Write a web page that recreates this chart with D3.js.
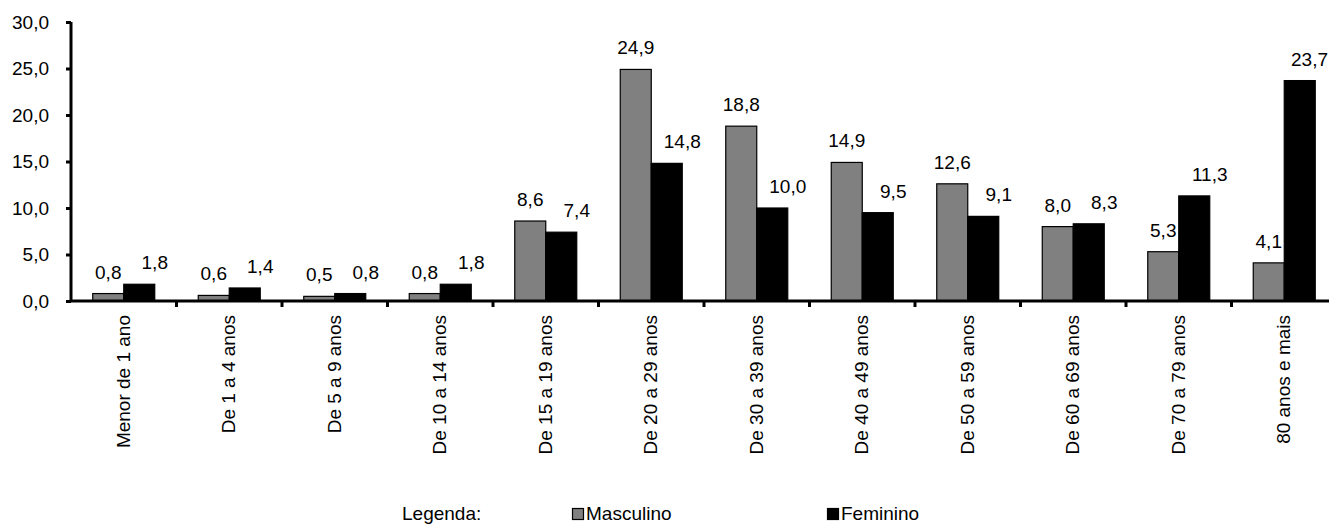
<!DOCTYPE html>
<html>
<head>
<meta charset="utf-8">
<script src="https://cdn.jsdelivr.net/npm/d3@7"></script>
<style>
  html, body { margin: 0; padding: 0; background: #fff; }
  svg { display: block; }
  text { font-family: "Liberation Sans", Arial, sans-serif; fill: #000; }
</style>
</head>
<body>
<svg id="chart" width="1329" height="526"></svg>
<script>
// Faixas etárias
const categories = [
  "Menor de 1 ano", "De 1 a 4 anos", "De 5 a 9 anos", "De 10 a 14 anos",
  "De 15 a 19 anos", "De 20 a 29 anos", "De 30 a 39 anos", "De 40 a 49 anos",
  "De 50 a 59 anos", "De 60 a 69 anos", "De 70 a 79 anos", "80 anos e mais"
];
// Percentuais por sexo
const masculino = [0.8, 0.6, 0.5, 0.8, 8.6, 24.9, 18.8, 14.9, 12.6, 8.0, 5.3, 4.1];
const feminino  = [1.8, 1.4, 0.8, 1.8, 7.4, 14.8, 10.0, 9.5, 9.1, 8.3, 11.3, 23.7];
const seriesNames = ["Masculino", "Feminino"];
const yTicks = [0, 5, 10, 15, 20, 25, 30];

const W = 1329;
const svg = d3.select("#chart");
const FS = 19;
const fmt = v => d3.format(".1f")(v).replace(".", ",");

const x0 = 71, bandW = 105.5;
const x = d3.scaleBand().domain(categories).range([x0, x0 + bandW * categories.length]).paddingInner(0).paddingOuter(0);
const y = d3.scaleLinear().domain([0, 30]).range([301, 22]);
const barW = 31;
const sub = d3.scaleBand().domain(seriesNames).range([-barW, barW]);
const colors = { "Masculino": "#808080", "Feminino": "#000000" };

const rows = categories.map((c, i) => ({ cat: c, values: [
  { name: "Masculino", v: masculino[i] },
  { name: "Feminino", v: feminino[i] }
]}));

// Barras
const groups = svg.append("g").selectAll("g").data(rows).join("g")
  .attr("transform", d => `translate(${x(d.cat) + x.bandwidth() / 2},0)`);

groups.selectAll("rect").data(d => d.values).join("rect")
  .attr("x", d => sub(d.name))
  .attr("y", d => y(d.v))
  .attr("width", sub.bandwidth())
  .attr("height", d => y(0) - y(d.v))
  .attr("fill", d => colors[d.name])
  .attr("stroke", "#000")
  .attr("stroke-width", 1.2);

// Rótulos de valor (mantidos dentro da área do gráfico)
groups.each(function(row) {
  const cx = x(row.cat) + x.bandwidth() / 2;
  d3.select(this).selectAll("text.val").data(row.values).join("text")
    .attr("class", "val")
    .attr("x", d => d.name === "Masculino" ? sub(d.name) + sub.bandwidth() / 2 : sub(d.name) + sub.bandwidth())
    .attr("y", d => y(d.v) - 15)
    .attr("text-anchor", "middle")
    .attr("font-size", FS)
    .text(d => fmt(d.v))
    .each(function() {
      const b = this.getBBox();
      const overflow = cx + b.x + b.width - (W - 1);
      if (overflow > 0) d3.select(this).attr("x", +d3.select(this).attr("x") - overflow);
    });
});

// Eixo Y
const yAxis = svg.append("g").attr("transform", `translate(${x0},0)`)
  .call(d3.axisLeft(y).tickValues(yTicks).tickSize(5).tickPadding(17).tickFormat(fmt));
yAxis.select(".domain").attr("stroke", "#000").attr("stroke-width", 3).attr("d", `M0,${y(30)}V${y(0)}`);
yAxis.selectAll(".tick line").attr("stroke-width", 3);
yAxis.selectAll(".tick text").attr("font-size", FS).attr("font-family", "Liberation Sans, Arial, sans-serif").attr("fill", "#000");

// Eixo X
const xAxis = svg.append("g").attr("transform", `translate(0,${y(0)})`);
xAxis.append("line").attr("x1", x0).attr("x2", x0 + bandW * categories.length)
  .attr("stroke", "#000").attr("stroke-width", 3);
xAxis.selectAll("line.tk").data(categories.slice(1)).join("line")
  .attr("class", "tk")
  .attr("x1", d => x(d)).attr("x2", d => x(d))
  .attr("y1", 0).attr("y2", 6)
  .attr("stroke", "#000").attr("stroke-width", 3);
xAxis.selectAll("text").data(categories).join("text")
  .attr("transform", d => `translate(${x(d) + x.bandwidth() / 2 + 6},14) rotate(-90)`)
  .attr("text-anchor", "end")
  .attr("font-size", FS)
  .text(d => d);

// Legenda
const leg = svg.append("g");
leg.append("text").attr("x", 402).attr("y", 520).attr("font-size", FS).text("Legenda:");
const legItems = [{ name: "Masculino", x: 572 }, { name: "Feminino", x: 827 }];
legItems.forEach(it => {
  leg.append("rect").attr("x", it.x + 0.5).attr("y", 508.5).attr("width", 11).attr("height", 11)
    .attr("fill", colors[it.name]).attr("stroke", "#000").attr("stroke-width", 1.2);
  leg.append("text").attr("x", it.x + 14).attr("y", 520).attr("font-size", FS).text(it.name);
});
</script>
</body>
</html>
